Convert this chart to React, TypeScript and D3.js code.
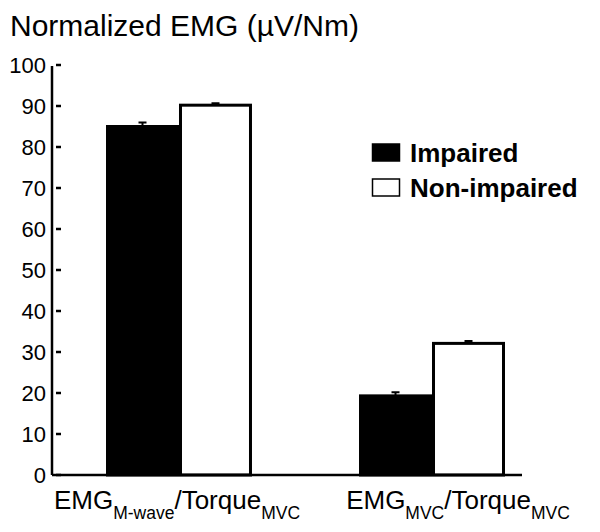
import * as d3 from 'd3';
import React, { useEffect, useRef } from 'react';

// groups on the x axis: main text + subscript pairs
const groups = ['mwave', 'mvc'];
const labelParts = [
    [['EMG', false], ['M-wave', true], ['/Torque', false], ['MVC', true]],
    [['EMG', false], ['MVC', true], ['/Torque', false], ['MVC', true]],
];
const series = ['Impaired', 'Non-impaired'];
const impaired = [85, 19.3];
const nonImpaired = [90.2, 32.1];
const impairedErr = [1, 0.9];
const nonImpairedErr = [0.5, 0.6];
const yTicks = [0, 10, 20, 30, 40, 50, 60, 70, 80, 90, 100];

const W = 600, H = 532;
const FONT = 'Liberation Sans, Arial, sans-serif';

function App() {
    const ref = useRef(null);

    useEffect(() => {
        const svg = d3.select(ref.current);
        svg.selectAll('*').remove();

        const y = d3.scaleLinear().domain([0, 100]).range([475, 65]);
        const x = d3.scaleBand().domain(groups).range([106, 505]).paddingInner(0.423);
        const xs = d3.scaleBand().domain(series).range([0, x.bandwidth()]);

        // title
        svg.append('text')
            .attr('x', 10).attr('y', 36)
            .style('font-family', FONT).style('font-size', '30px')
            .text('Normalized EMG (µV/Nm)');

        // y axis
        svg.append('line')
            .attr('x1', 52).attr('x2', 52).attr('y1', y(100) + 1).attr('y2', y(0))
            .attr('stroke', '#000').attr('stroke-width', 2.5);
        const tk = svg.append('g');
        tk.selectAll('line').data(yTicks).enter().append('line')
            .attr('x1', 56).attr('x2', 61)
            .attr('y1', d => y(d)).attr('y2', d => y(d))
            .attr('stroke', '#000').attr('stroke-width', 2.5);
        tk.selectAll('text').data(yTicks).enter().append('text')
            .attr('x', 46).attr('y', d => y(d))
            .attr('dy', '0.35em')
            .attr('text-anchor', 'end')
            .style('font-family', FONT).style('font-size', '22px')
            .text(d => d);

        // bars
        const rows = groups.map((g, i) => ({
            g,
            vals: [
                { s: series[0], v: impaired[i], e: impairedErr[i] },
                { s: series[1], v: nonImpaired[i], e: nonImpairedErr[i] },
            ],
        }));
        const gg = svg.selectAll('g.grp').data(rows).enter().append('g')
            .attr('class', 'grp')
            .attr('transform', d => `translate(${x(d.g)},0)`);
        gg.selectAll('rect').data(d => d.vals).enter().append('rect')
            .attr('x', d => xs(d.s) + 1.5)
            .attr('width', xs.bandwidth() - 3)
            .attr('y', d => y(d.v))
            .attr('height', d => y(0) - y(d.v))
            .attr('fill', d => d.s === series[0] ? '#000' : '#fff')
            .attr('stroke', '#000').attr('stroke-width', 3);
        // error bars
        gg.selectAll('path.err').data(d => d.vals).enter().append('path')
            .attr('class', 'err')
            .attr('d', d => {
                const cx = xs(d.s) + xs.bandwidth() / 2;
                return `M${cx},${y(d.v)}V${y(d.v + d.e)}M${cx - 4},${y(d.v + d.e)}H${cx + 4}`;
            })
            .attr('fill', 'none').attr('stroke', '#000').attr('stroke-width', 2);

        // x baseline
        svg.append('line')
            .attr('x1', 52).attr('x2', 522).attr('y1', y(0)).attr('y2', y(0))
            .attr('stroke', '#000').attr('stroke-width', 2.5);

        // x labels
        const labelShift = [-2, 26];
        groups.forEach((g, i) => {
            const t = svg.append('text')
                .attr('x', x(g) + x.bandwidth() / 2 + labelShift[i]).attr('y', 509)
                .attr('text-anchor', 'middle')
                .style('font-family', FONT).style('font-size', '26px');
            labelParts[i].forEach(([txt, sub], j) => {
                const prevSub = j > 0 && labelParts[i][j - 1][1];
                t.append('tspan')
                    .attr('dy', sub ? 10 : (prevSub ? -10 : 0))
                    .style('font-size', sub ? '17.5px' : '26px')
                    .text(txt);
            });
        });

        // legend
        const lg = svg.append('g');
        series.forEach((s, i) => {
            const yy = 144 + i * 35;
            lg.append('rect')
                .attr('x', 372.5).attr('y', yy).attr('width', 27).attr('height', 17)
                .attr('fill', i === 0 ? '#000' : '#fff')
                .attr('stroke', '#000').attr('stroke-width', 1.5);
            lg.append('text')
                .attr('x', 410).attr('y', yy + 18)
                .style('font-family', FONT).style('font-size', '26px').style('font-weight', 'bold')
                .text(s);
        });
    }, []);

    return (
        <svg ref={ref} width={W} height={H} style={{ position: 'absolute', left: 0, top: 0, background: '#fff' }}></svg>
    );
}

export default App;
